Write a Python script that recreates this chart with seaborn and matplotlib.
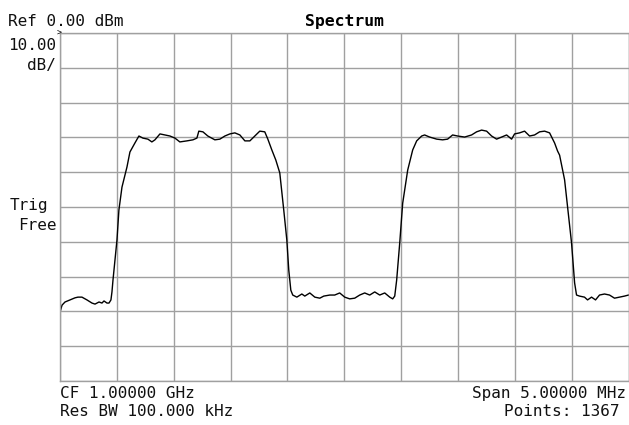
import matplotlib
matplotlib.use("Agg")
import matplotlib.pyplot as plt
import seaborn as sns
import pandas as pd

# Frequency offset from centre frequency (MHz) and trace level (dBm)
freq_offset_mhz = [
    -2.500, -2.482, -2.456, -2.412, -2.368, -2.342, -2.307, -2.263, -2.219, -2.192,
    -2.157, -2.131, -2.113, -2.087, -2.069, -2.052, -2.043, -2.034,
    -1.999, -1.982, -1.955, -1.911, -1.885, -1.841, -1.806,
    -1.771, -1.727, -1.692, -1.665, -1.621, -1.577, -1.533, -1.489, -1.446, -1.384,
    -1.331, -1.296, -1.279, -1.243, -1.200, -1.138, -1.094, -1.050, -1.006, -0.962,
    -0.918, -0.874, -0.830, -0.787, -0.743, -0.699, -0.672, -0.637,
    -0.602, -0.567, -0.532, -0.505, -0.488, -0.470, -0.453,
    -0.417, -0.373, -0.347, -0.303, -0.259, -0.215, -0.180, -0.127, -0.084, -0.040,
    0.004, 0.048, 0.092, 0.136, 0.180, 0.224, 0.268, 0.312, 0.356, 0.400, 0.426, 0.444,
    0.461, 0.488, 0.514, 0.558, 0.602, 0.637,
    0.681, 0.707, 0.751, 0.813, 0.865, 0.909, 0.953, 0.997, 1.059, 1.120,
    1.164, 1.208, 1.252, 1.296, 1.340, 1.384, 1.428, 1.472, 1.498, 1.542,
    1.586, 1.630, 1.674, 1.718, 1.762, 1.806, 1.850, 1.876,
    1.894, 1.938, 1.964, 1.999, 2.026, 2.043,
    2.069, 2.113, 2.140, 2.175, 2.210, 2.245, 2.289, 2.333, 2.377, 2.421, 2.465, 2.500,
]
level_dbm = [
    -80.2, -78.2, -77.3, -76.7, -76.1, -75.9, -75.9, -76.7, -77.6, -77.9,
    -77.3, -77.6, -77.0, -77.6, -77.6, -76.7, -74.4, -71.0,
    -59.5, -50.9, -44.3, -38.5, -34.2, -31.6, -29.6,
    -30.2, -30.5, -31.3, -30.7, -29.0, -29.3, -29.6, -30.2, -31.3, -31.0,
    -30.7, -30.2, -28.2, -28.4, -29.6, -30.7, -30.5, -29.6, -29.0, -28.7,
    -29.3, -31.0, -31.0, -29.6, -28.2, -28.4, -30.5, -33.6,
    -36.5, -40.2, -50.9, -59.5, -68.1, -73.9, -75.3,
    -75.9, -75.0, -75.6, -74.7, -75.9, -76.2, -75.6, -75.3, -75.3, -74.7,
    -75.9, -76.4, -76.2, -75.3, -74.7, -75.3, -74.4, -75.3, -74.7, -75.9, -76.4, -75.6,
    -71.0, -60.3, -48.9, -39.4, -33.6, -31.0,
    -29.6, -29.3, -29.9, -30.5, -30.7, -30.5, -29.3, -29.6, -29.9, -29.3,
    -28.4, -27.9, -28.2, -29.6, -30.5, -29.9, -29.3, -30.5, -29.0, -28.7,
    -28.2, -29.6, -29.3, -28.4, -28.2, -28.7, -31.6, -33.9,
    -35.1, -42.2, -50.0, -60.3, -71.8, -75.3,
    -75.6, -75.9, -76.7, -75.9, -76.7, -75.3, -75.0, -75.3, -76.2, -75.9, -75.6, -75.3,
]

ref_level = 0.0
db_per_div = 10.0
n_div = 10
span_mhz = 5.0

df = pd.DataFrame({"freq": freq_offset_mhz, "level": level_dbm})

sns.set_style("white")
plt.rcParams["font.family"] = ["DejaVu Sans Mono", "DejaVu Sans"]

W, H = 629, 425
fig = plt.figure(figsize=(W / 100, H / 100), dpi=100)
fig.patch.set_facecolor("white")
ax = fig.add_axes([60 / W, 1 - 381 / H, 568.5 / W, 348 / H])

sns.lineplot(data=df, x="freq", y="level", ax=ax, color="black", linewidth=1.0)

ax.set_xlim(-span_mhz / 2, span_mhz / 2)
ax.set_ylim(ref_level - n_div * db_per_div, ref_level)
ax.set_xticks([-span_mhz / 2 + i * span_mhz / n_div for i in range(n_div + 1)])
ax.set_yticks([ref_level - i * db_per_div for i in range(n_div + 1)])
ax.set_xticklabels([])
ax.set_yticklabels([])
ax.tick_params(length=0)
ax.set_xlabel("")
ax.set_ylabel("")
ax.grid(True, color="#a0a0a0", linewidth=1.0)
for s in ax.spines.values():
    s.set_color("#a0a0a0")
    s.set_linewidth(1.0)

def fy(y):
    return 1 - y / H

fs = 11.5
tc = "#111111"
fig.text(8 / W, fy(26), "Ref 0.00 dBm", fontsize=fs, color=tc, va="baseline", ha="left")
fig.text(344 / W, fy(26), "Spectrum", fontsize=11.8, fontweight="bold", color="black",
         va="baseline", ha="center")
fig.text(56 / W, fy(50), "10.00", fontsize=fs, color=tc, va="baseline", ha="right")
fig.text(56 / W, fy(70), "dB/", fontsize=fs, color=tc, va="baseline", ha="right")
fig.text(57 / W, fy(35.5), ">", fontsize=6, color="black", va="baseline", ha="left")
fig.text(10 / W, fy(210), "Trig", fontsize=fs, color=tc, va="baseline", ha="left")
fig.text(57 / W, fy(230), "Free", fontsize=fs, color=tc, va="baseline", ha="right")
fig.text(60 / W, fy(398), "CF 1.00000 GHz", fontsize=fs, color=tc, va="baseline", ha="left")
fig.text(60 / W, fy(416), "Res BW 100.000 kHz", fontsize=fs, color=tc, va="baseline", ha="left")
fig.text(626 / W, fy(398), "Span 5.00000 MHz", fontsize=fs, color=tc, va="baseline", ha="right")
fig.text(620 / W, fy(416), "Points: 1367", fontsize=fs, color=tc, va="baseline", ha="right")

fig.savefig("out.png", dpi=100, facecolor="white")
